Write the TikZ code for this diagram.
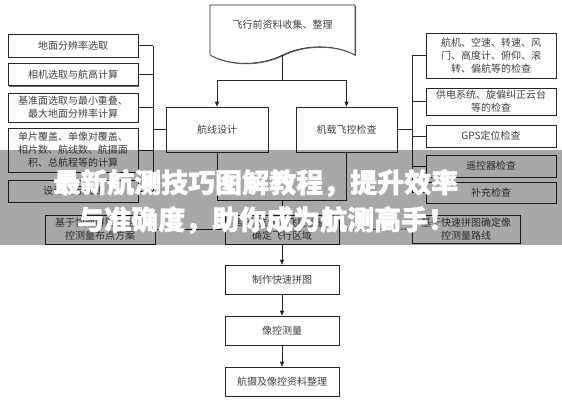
\documentclass[tikz,border=0pt]{standalone}
\usepackage{fontspec}
\newfontfamily\cjk{Noto Sans CJK SC}
\newfontfamily\bannerfont{Noto Sans CJK SC}[BoldFeatures={FakeBold=1.5}]
\usetikzlibrary{arrows.meta,shadows}
\tikzset{
  flowbox/.style={draw=black!85, line width=0.6pt, fill=white,
    align=center, inner sep=1pt, text=black!75,
    font=\cjk\fontsize{10}{13}\selectfont,
    drop shadow={shadow xshift=1pt, shadow yshift=-1pt,
      fill=black!60, opacity=1}},
  sidebox/.style={flowbox, minimum width=130pt},
  midbox/.style={flowbox, minimum width=114pt, minimum height=29pt},
  arr/.style={-{Triangle[length=5pt,width=4pt]}, line width=0.6pt,
    draw=black!85},
  link/.style={line width=0.6pt, draw=black!85},
  bannertext/.style={text=white, inner sep=0pt,
    font=\bannerfont\bfseries\fontsize{27}{30}\selectfont},
}

\begin{document}
\begin{tikzpicture}[x=1pt, y=-1pt]
  \fill[white] (0,0) rectangle (562,400);
  \useasboundingbox (0,0) rectangle (562,400);

  % document shape on top
  \draw[link, fill=white, drop shadow={shadow xshift=1pt,
      shadow yshift=-1pt, fill=black!60, opacity=1}]
    (210,5) -- (355,5) -- (355,55)
    .. controls (335,44) and (305,44) .. (282.5,55)
    .. controls (260,66) and (230,66) .. (210,55) -- cycle;
  \node[font=\cjk\fontsize{10}{13}\selectfont, text=black!75]
    (collect) at (282.5,25) {飞行前资料收集、整理};
  \coordinate (collectout) at (282.5,55);
  \coordinate (fork) at (282.5,80);

  % two branches
  \node[flowbox, minimum width=102pt, minimum height=45pt]
    (plan) at (217,129.5) {航线设计};
  \node[flowbox, minimum width=101pt, minimum height=45pt]
    (check) at (346.5,129.5) {机载飞控检查};

  \draw[link] (collectout) -- (fork);
  \draw[arr] (fork) -| (plan.north);
  \draw[arr] (fork) -| (check.north);

  % left column
  \node[sidebox, minimum height=23pt] (ground) at (73,45.5) {地面分辨率选取};
  \node[sidebox, minimum height=22pt] (camera) at (73,74.5) {相机选取与航高计算};
  \node[sidebox, minimum height=29pt] (datum) at (73,107.5)
    {基准面选取与最小重叠、\\最大地面分辨率计算};
  \node[sidebox, minimum height=44pt] (cover) at (73,150)
    {单片覆盖、单像对覆盖、\\相片数、航线数、航摄面\\积、总航程等的计算};
  \node[sidebox, minimum height=22pt] (route) at (73,191) {设计飞行航线};
  \node[flowbox, minimum width=110pt, minimum height=29pt]
    (ctrlleft) at (100,229.5) {基于快速拼图确定像\\控测量布点方案};

  \coordinate (lbus) at (153,0);
  \foreach \n in {ground,camera,datum,cover,route}
    \draw[link] (\n.east) -- (\n.east -| lbus);
  \draw[link] (ground.east -| lbus) -- (route.east -| lbus);
  \draw[link] (plan.west) -- (plan.west -| lbus);

  % right column
  \node[sidebox, minimum height=45pt] (engine) at (491,55.5)
    {航机、空速、转速、风\\门、高度计、俯仰、滚\\转、偏航等的检查};
  \node[sidebox, minimum height=27pt] (power) at (491,101.5)
    {供电系统、旋偏纠正云台\\等的检查};
  \node[sidebox, minimum height=22pt] (gps) at (491,136) {GPS定位检查};
  \node[sidebox, minimum height=22pt] (remote) at (491,166) {遥控器检查};
  \node[sidebox, minimum height=21pt] (extra) at (491,192.5) {补充检查};
  \node[flowbox, minimum width=108pt, minimum height=28pt]
    (ctrlright) at (466,229) {基于快速拼图确定像\\控测量路线};

  \coordinate (rbus) at (412,0);
  \foreach \n in {engine,power,gps,remote,extra}
    \draw[link] (\n.west) -- (\n.west -| rbus);
  \draw[link] (engine.west -| rbus) -- (extra.west -| rbus);
  \draw[link] (check.east) -- (check.east -| rbus);

  % centre column
  \node[midbox] (area) at (282,229.5) {结合航线与飞控检查\\确定飞行区域};
  \node[midbox] (mosaic) at (282,279.5) {制作快速拼图};
  \node[midbox] (survey) at (282,330.5) {像控测量};
  \node[midbox] (archive) at (282,381.5) {航摄及像控资料整理};

  \coordinate (merge) at (282,200);
  \draw[link] (plan.south) |- (merge);
  \draw[link] (check.south) |- (merge);
  \draw[arr] (merge) -- (area.north);
  \draw[link] (ctrlleft.east) -- (area.west);
  \draw[link] (ctrlright.west) -- (area.east);
  \draw[arr] (area) -- (mosaic);
  \draw[arr] (mosaic) -- (survey);
  \draw[arr] (survey) -- (archive);

  % banner across the middle
  \fill[black, opacity=0.34] (0,150) rectangle (562,245);
  \node[bannertext, anchor=west] (title) at (53,183)
    {最新航测技巧图解教程，提升效率};
  \node[bannertext, anchor=west] (subtitle) at (77,220)
    {与准确度，助你成为航测高手！};
\end{tikzpicture}
\end{document}
